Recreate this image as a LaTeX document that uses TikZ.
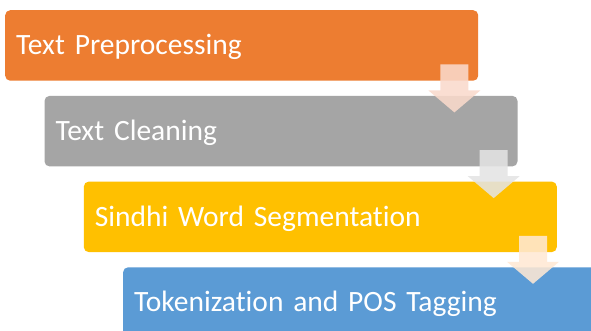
\documentclass[tikz,border=0pt]{standalone}
\usepackage{fontspec}
\setmainfont[RawFeature={-liga;-clig;-calt;-dlig}]{Carlito}
\usetikzlibrary{calc}
\definecolor{cOrange}{HTML}{ED7D31}
\definecolor{cGray}{HTML}{A5A5A5}
\definecolor{cYellow}{HTML}{FFC000}
\definecolor{cBlue}{HTML}{5B9BD5}
\definecolor{aOrange}{RGB}{250,218,204}
\definecolor{aGray}{RGB}{228,228,228}
\definecolor{aYellow}{RGB}{255,233,212}
\tikzset{
  stepbox/.style={rectangle, rounded corners=5pt, anchor=north west,
    minimum height=70.5pt, text width=451pt, inner xsep=11pt, inner ysep=0pt,
    align=left, text=white, text height=18.6pt, text depth=0pt,
    font=\fontsize{29.5}{35}\selectfont},
  flowarrow/.style={fill=#1, fill opacity=0.87, draw=none}
}
\newcommand\stepdown[2]{%
  \fill[flowarrow=#2] ($(#1.south east)+(-38,-16.5)$) -- ++(28,0) -- ++(0,26)
    -- ++(12,0) -- ++(-26,22) -- ++(-26,-22) -- ++(12,0) -- cycle;}
\begin{document}
\begin{tikzpicture}[x=1pt,y=-1pt]
\useasboundingbox (0,0) rectangle (591,330);
\clip (0,0) rectangle (591,330);
\fill[white] (0,0) rectangle (591,330);
\node[stepbox, fill=cOrange] (s1) at (5,10) {Text Preprocessing};
\node[stepbox, fill=cGray] (s2) at (44.3,95.7) {Text Cleaning};
\node[stepbox, fill=cYellow] (s3) at (83.6,181.4) {Sindhi Word Segmentation};
\node[stepbox, fill=cBlue] (s4) at (122.9,267.1) {Tokenization and POS Tagging};
\stepdown{s1}{aOrange}
\stepdown{s2}{aGray}
\stepdown{s3}{aYellow}
\end{tikzpicture}
\end{document}
